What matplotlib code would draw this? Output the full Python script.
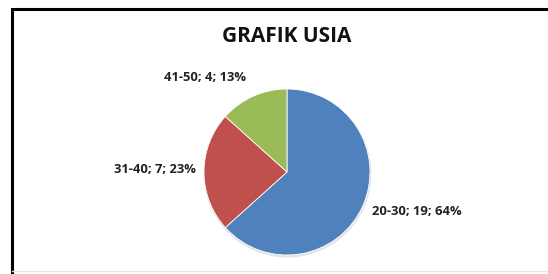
import matplotlib
matplotlib.use("Agg")
import matplotlib.pyplot as plt
import numpy as np
from matplotlib.patches import Rectangle

categories = ["20-30", "31-40", "41-50"]
values = [19, 7, 4]
percents = ["64%", "23%", "13%"]
colors = ["#4F81BD", "#C0504D", "#9BBB59"]
title = "GRAFIK USIA"

plt.rcParams['font.family'] = ['Open Sans', 'DejaVu Sans']

W, H = 548, 274
fig = plt.figure(figsize=(W / 100, H / 100), dpi=100)
ax = fig.add_axes([0, 0, 1, 1])
ax.set_xlim(0, W)
ax.set_ylim(0, H)
ax.set_aspect('equal')
ax.axis('off')

cx, cy, r = 287, H - 172, 83

# subtle shadow
ax.pie(values, startangle=90, counterclock=False, radius=r + 1,
       center=(cx + 0.5, cy - 1.5), colors=["#e4e4e4"] * 3,
       wedgeprops=dict(linewidth=0))
wedges, _ = ax.pie(values, startangle=90, counterclock=False, radius=r,
                   center=(cx, cy), colors=colors,
                   wedgeprops=dict(linewidth=0.6, edgecolor="white"))
ax.set_xlim(0, W)
ax.set_ylim(0, H)

label_pos = [(372, H - 211, 'left'), (196, H - 170, 'right'), (246, H - 77, 'right')]
for (c, v, p), (x, y, ha) in zip(zip(categories, values, percents), label_pos):
    ax.text(x, y, f"{c}; {v}; {p}", ha=ha, va='center', fontsize=9.4,
            fontweight='bold', color='#222222')

ax.text(287, H - 37, title, ha='center', va='center', fontsize=15,
        fontweight='bold', color='#111111')

# frame
ax.add_patch(Rectangle((11.5, -10), W + 20, H - 8.5 + 10, fill=False,
                       edgecolor='black', linewidth=2.2, clip_on=False))
ax.plot([12, W], [3, 3], color='#e6e6e6', linewidth=1)

fig.savefig("out.png", dpi=100)
